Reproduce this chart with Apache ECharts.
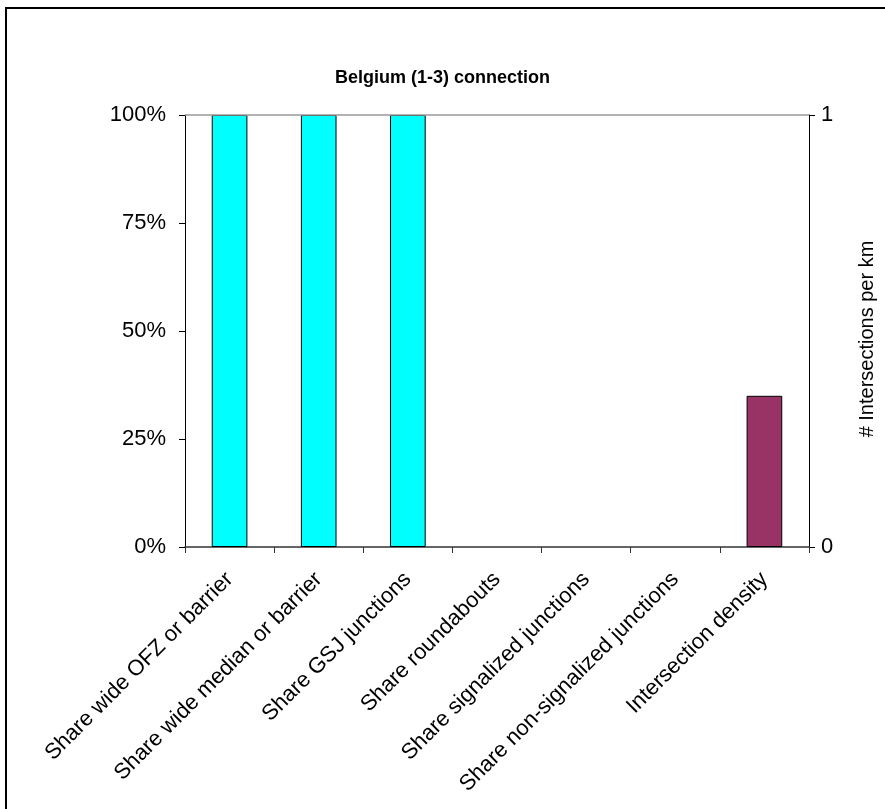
<!DOCTYPE html>
<html>
<head>
<meta charset="utf-8">
<script src="https://cdn.jsdelivr.net/npm/echarts@6/dist/echarts.min.js"></script>
<style>
  html, body { margin: 0; padding: 0; background: #fff; }
  #chart { width: 885px; height: 809px; }
</style>
</head>
<body>
<div id="chart"></div>
<script>
// Indicator categories along the x axis
const categories = [
  'Share wide OFZ or barrier',
  'Share wide median or barrier',
  'Share GSJ junctions',
  'Share roundabouts',
  'Share signalized junctions',
  'Share non-signalized junctions',
  'Intersection density'
];
// Shares (left axis, fraction of 1 = 100%)
const shareValues = [1, 1, 1, 0, 0, 0, null];
// Intersections per km (right axis)
const densityValues = [null, null, null, null, null, null, 0.35];
// Tick labels
const leftTicks = ['0%', '25%', '50%', '75%', '100%'];
const rightTicks = ['0', '1'];

const FONT = '"Liberation Sans", Arial, sans-serif';

// Zero-height bars get no outline so nothing shows on the baseline
function barData(values) {
  return values.map((v) => (v === 0 ? { value: 0, itemStyle: { borderWidth: 0 } } : v));
}

const chart = echarts.init(document.getElementById('chart'), null, { renderer: 'canvas' });

chart.setOption({
  animation: false,
  backgroundColor: '#ffffff',
  title: {
    text: 'Belgium (1-3) connection',
    left: 'center',
    top: 64,
    textStyle: { fontFamily: FONT, fontWeight: 'bold', fontSize: 18, color: '#000' }
  },
  graphic: [{
    type: 'rect',
    shape: { x: 6, y: 8, width: 900, height: 900 },
    style: { fill: 'none', stroke: '#000', lineWidth: 2 },
    silent: true
  }],
  grid: { left: 185, right: 75, top: 115, bottom: 262 },
  xAxis: {
    type: 'category',
    data: categories,
    axisLine: { show: true, lineStyle: { color: '#333', width: 1.5 } },
    axisTick: { show: true, alignWithLabel: false, length: 6, lineStyle: { color: '#333' } },
    axisLabel: {
      interval: 0, rotate: 45, margin: 29,
      fontFamily: FONT, fontSize: 22, color: '#000'
    },
    splitLine: { show: false }
  },
  yAxis: [{
    type: 'value',
    min: 0, max: 1, interval: 0.25,
    position: 'left',
    axisLine: { show: true, lineStyle: { color: '#000' } },
    axisTick: { show: true, length: 6, lineStyle: { color: '#000' } },
    axisLabel: {
      margin: 19, fontFamily: FONT, fontSize: 22, color: '#000',
      formatter: (v) => leftTicks[Math.round(v / 0.25)]
    },
    splitLine: { show: false }
  }, {
    type: 'value',
    min: 0, max: 1, interval: 1,
    position: 'right',
    name: '# Intersections per km',
    nameLocation: 'middle',
    nameRotate: 90,
    nameGap: 48,
    nameTextStyle: { fontFamily: FONT, fontSize: 20, color: '#000', padding: [0, 0, 0, -16] },
    axisLine: { show: true, lineStyle: { color: '#000' } },
    axisTick: { show: true, length: 6, lineStyle: { color: '#000' } },
    axisLabel: {
      margin: 12, fontFamily: FONT, fontSize: 22, color: '#000',
      formatter: (v) => rightTicks[Math.round(v)]
    },
    splitLine: { show: false }
  }],
  series: [{
    type: 'bar',
    yAxisIndex: 0,
    data: barData(shareValues),
    barWidth: '40%',
    barGap: '-100%',
    itemStyle: { color: '#00ffff', borderColor: '#000', borderWidth: 1 },
    markLine: {
      silent: true, symbol: 'none', label: { show: false },
      lineStyle: { color: '#999', type: 'solid', width: 1.5 },
      data: [{ yAxis: 1 }]
    },
    z: 2
  }, {
    type: 'bar',
    yAxisIndex: 1,
    data: barData(densityValues),
    barWidth: '40%',
    barGap: '-100%',
    itemStyle: { color: '#993366', borderColor: '#000', borderWidth: 1 },
    z: 2
  }]
});
</script>
</body>
</html>
